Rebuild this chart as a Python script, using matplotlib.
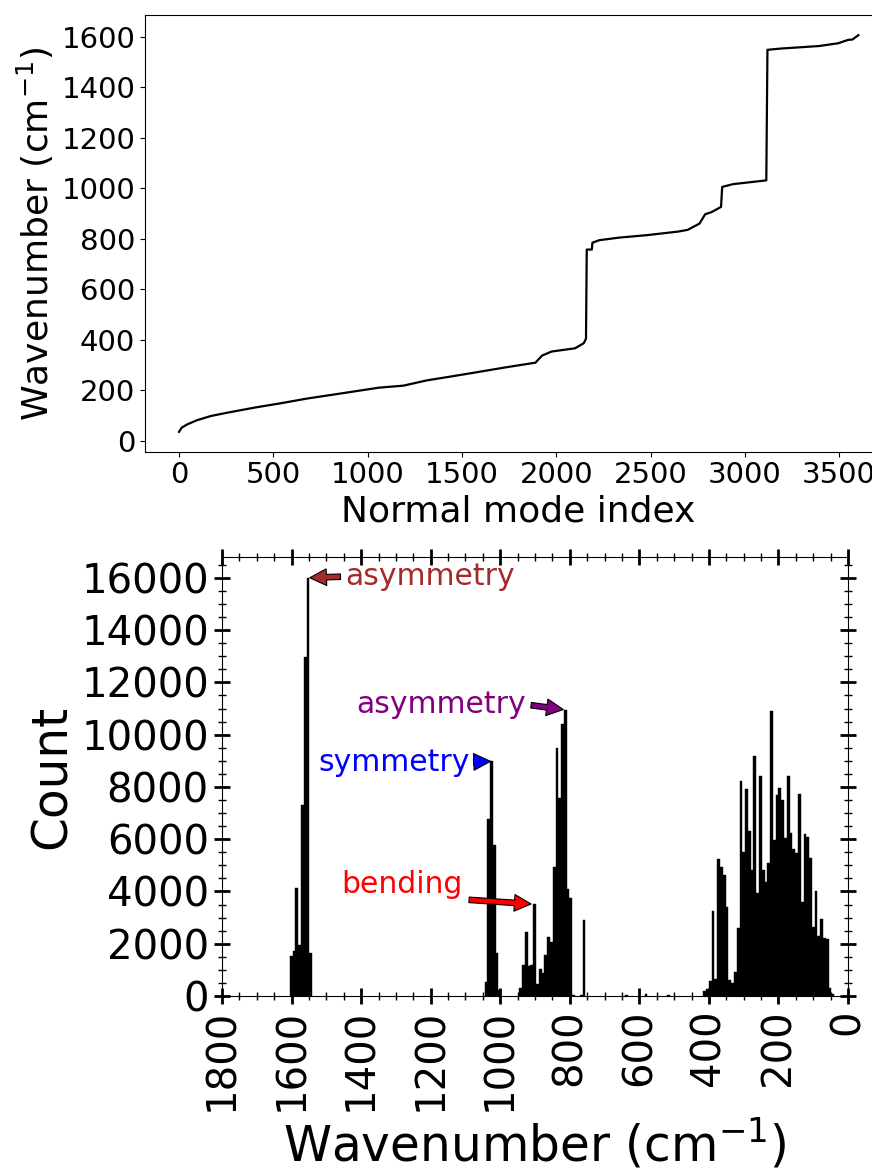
import numpy as np
import matplotlib
matplotlib.use("Agg")
import matplotlib.pyplot as plt
from matplotlib.ticker import MultipleLocator

# ---- top panel: sorted normal mode wavenumbers ----
mode_index = [0, 15, 45, 95, 170, 250, 400, 530, 680, 805, 1060, 1190, 1315, 1440,
              1570, 1720, 1890, 1925, 1975, 2100, 2146, 2158, 2162, 2189, 2192, 2228,
              2330, 2480, 2645, 2697, 2760, 2790, 2823, 2874, 2880, 2937, 3114, 3120,
              3190, 3393, 3495, 3546, 3571, 3602]
mode_wavenumber = [36, 53, 66, 82, 99, 111, 132, 148, 168, 182, 211, 219, 240, 255,
                   271, 290, 310, 338, 354, 367, 387, 405, 758, 758, 785, 795,
                   805, 815, 829, 836, 861, 898, 906, 927, 1006, 1017, 1032, 1549,
                   1554, 1564, 1575, 1588, 1590, 1607]

# ---- bottom panel: histogram counts, bin width 8 cm-1, listed by band ----
bin_width = 8
low_start = 40
low_counts = [60, 290, 2180, 2200, 2930, 2300, 4020, 2650, 5270, 6100, 6180, 3610,
              7720, 5460, 5630, 6250, 8430, 6030, 7500, 7950, 7680, 5970, 10920, 5080,
              4380, 4820, 8430, 3930, 9200, 4820, 6330, 7910, 5520, 8240, 2590, 930,
              485, 610, 3390, 4630, 4950, 5230, 660, 3270, 574, 255, 200]
stray_lo = [513, 577, 633, 763]
stray_counts = [40, 80, 40, 40]
single_start = 755
single_counts = [2900]
asym_start = 785
asym_counts = [40, 3740, 4080, 10950, 10400, 7570, 9480, 4930, 2080, 2245, 1570]
bend_start = 873
bend_counts = [870, 1020, 440, 3510, 1190, 1150, 2460, 1190, 293]
sym_start = 997
sym_counts = [230, 1660, 5780, 8980, 6760, 550]
high_start = 1541
high_counts = [1660, 16000, 12990, 7310, 1950, 4150, 1735, 1530]

annot_text = ["asymmetry", "asymmetry", "symmetry", "bending"]
annot_color = ["brown", "purple", "blue", "red"]


def band(start, counts):
    lo = start + bin_width * np.arange(len(counts))
    return lo, np.array(counts)


bands = {
    "low": band(low_start, low_counts),
    "single": band(single_start, single_counts),
    "asym": band(asym_start, asym_counts),
    "bend": band(bend_start, bend_counts),
    "sym": band(sym_start, sym_counts),
    "high": band(high_start, high_counts),
}

fig = plt.figure(figsize=(8.72, 11.72), dpi=100)

# top panel
ax1 = fig.add_axes([0.1663, 0.6146, 0.857, 0.3723])
ax1.plot(mode_index, mode_wavenumber, c="black", linewidth=1.6)
ax1.set_xlabel("Normal mode index", fontsize=26)
ax1.set_ylabel(r"Wavenumber (cm$^{-1}$)", fontsize=26)
ax1.xaxis.set_major_locator(MultipleLocator(500))
ax1.yaxis.set_major_locator(MultipleLocator(200))
ax1.tick_params(labelsize=21)

# bottom panel
ax2 = fig.add_axes([0.2546, 0.1502, 0.7179, 0.3746])
for lo, cnt in bands.values():
    ax2.bar(lo, cnt, width=bin_width, align="edge", color="black",
            edgecolor="black", linewidth=0.3)
ax2.bar(stray_lo, stray_counts, width=bin_width, align="edge", color="black",
        edgecolor="black", linewidth=0.3)
ax2.set_xlim(1800, 0)
ax2.set_ylim(0, 16800)
ax2.xaxis.set_major_locator(MultipleLocator(200))
ax2.xaxis.set_minor_locator(MultipleLocator(50))
ax2.yaxis.set_major_locator(MultipleLocator(2000))
ax2.yaxis.set_minor_locator(MultipleLocator(500))
ax2.tick_params(which="both", direction="inout", top=True, right=True)
ax2.tick_params(which="major", length=12, width=2, labelsize=29)
ax2.tick_params(which="minor", length=6, width=1)
plt.setp(ax2.get_xticklabels(), rotation=90)
ax2.set_xlabel(r"Wavenumber (cm$^{-1}$)", fontsize=35)
ax2.set_ylabel("Count", fontsize=35)


def peak(key):
    lo, cnt = bands[key]
    i = np.argmax(cnt)
    return lo[i] + bin_width / 2, cnt[i]


# annotations, arrows point at the band maxima
annot_keys = ["high", "asym", "sym", "bend"]
annot_xytext = [(1446, 16050), (925, 11150), (1088, 8950), (1108, 4250)]
annot_ha = ["left", "right", "right", "right"]
for key, txt, col, xyt, ha in zip(annot_keys, annot_text, annot_color, annot_xytext, annot_ha):
    ax2.annotate(txt, xy=peak(key), xytext=xyt, color=col, fontsize=21.5,
                 ha=ha, va="center",
                 arrowprops=dict(facecolor=col, edgecolor="black", shrink=0.05,
                                 width=4, headwidth=12, headlength=12, linewidth=0.8))

fig.savefig("out.png", dpi=100)
